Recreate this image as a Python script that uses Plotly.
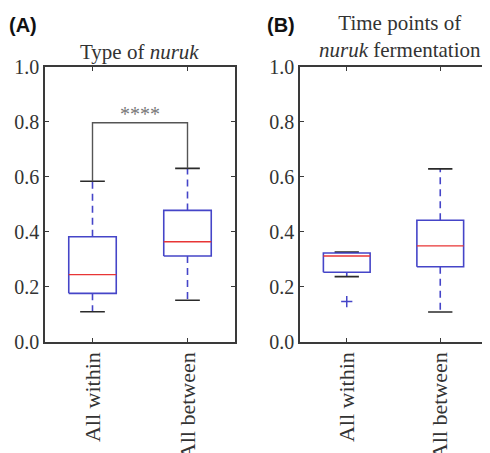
import plotly.graph_objects as go

categories = ["All within", "All between"]

# Panel A: Type of nuruk
a_lower = [0.109, 0.151]
a_q1 = [0.176, 0.312]
a_median = [0.244, 0.364]
a_q3 = [0.382, 0.478]
a_upper = [0.584, 0.631]
a_bracket = 0.797
a_sig = "****"

# Panel B: Time points of nuruk fermentation
b_lower = [0.237, 0.108]
b_q1 = [0.253, 0.273]
b_median = [0.312, 0.349]
b_q3 = [0.323, 0.442]
b_upper = [0.326, 0.629]
b_outlier_x = ["All within"]
b_outlier_y = [0.146]

y_ticks = [0.0, 0.2, 0.4, 0.6, 0.8, 1.0]

BLUE = "#4545c8"
RED = "#e83535"
CAP = "#2a2a2a"
FRAME = "#3a3a3a"
TXT = "#333333"
SERIF = "Liberation Serif"

# page body has an 8px margin; size the figure so that it fills the window
OFF = 8
W, H = 490 - OFF, 453 - OFF


def px(x):
    return (x - OFF) / W


def py(y):
    return 1 - (y - OFF) / H


fig = go.Figure()


def add_boxes(lower, q1, med, q3, upper, xa, ya):
    bx, by, mx, my, wx, wy, cx, cy = [], [], [], [], [], [], [], []
    hw, cw = 0.25, 0.13
    for i in range(len(categories)):
        bx += [i - hw, i + hw, i + hw, i - hw, i - hw, None]
        by += [q1[i], q1[i], q3[i], q3[i], q1[i], None]
        mx += [i - hw, i + hw, None]
        my += [med[i], med[i], None]
        wx += [i, i, None, i, i, None]
        wy += [q3[i], upper[i], None, q1[i], lower[i], None]
        cx += [i - cw, i + cw, None, i - cw, i + cw, None]
        cy += [upper[i], upper[i], None, lower[i], lower[i], None]
    common = dict(mode="lines", xaxis=xa, yaxis=ya, showlegend=False, hoverinfo="skip")
    fig.add_trace(go.Scatter(x=wx, y=wy, line=dict(color=BLUE, width=1.6, dash="7px,5px"), **common))
    fig.add_trace(go.Scatter(x=cx, y=cy, line=dict(color=CAP, width=1.6), **common))
    fig.add_trace(go.Scatter(x=bx, y=by, line=dict(color=BLUE, width=1.6), **common))
    fig.add_trace(go.Scatter(x=mx, y=my, line=dict(color=RED, width=1.4), **common))


add_boxes(a_lower, a_q1, a_median, a_q3, a_upper, "x", "y")
add_boxes(b_lower, b_q1, b_median, b_q3, b_upper, "x2", "y2")

# significance bracket panel A
fig.add_trace(go.Scatter(
    x=[0, 0, 1, 1], y=[a_upper[0], a_bracket, a_bracket, a_upper[1]],
    mode="lines", line=dict(color="#555555", width=1.4),
    xaxis="x", yaxis="y", showlegend=False, hoverinfo="skip"))

# outlier panel B
fig.add_trace(go.Scatter(
    x=[categories.index(c) for c in b_outlier_x], y=b_outlier_y, mode="markers",
    marker=dict(symbol="cross-thin", size=8, line=dict(color=BLUE, width=1.5)),
    xaxis="x2", yaxis="y2", showlegend=False, hoverinfo="skip"))

y_dom = [py(341.7), py(67)]

xcommon = dict(range=[-0.5, 1.5], tickmode="array", tickvals=[0, 1], ticktext=categories,
               tickangle=-90, ticks="inside", ticklen=4, tickcolor=FRAME,
               showline=True, linecolor=FRAME, linewidth=1.5, mirror="ticks",
               showgrid=False, zeroline=False, automargin=False,
               tickfont=dict(family=SERIF, size=22, color=TXT))
ycommon = dict(range=[0, 1], tickmode="array", tickvals=y_ticks,
               ticktext=[f"{v:.1f}" for v in y_ticks],
               ticks="inside", ticklen=4, tickcolor=FRAME,
               showline=True, linecolor=FRAME, linewidth=1.5, mirror="ticks",
               showgrid=False, zeroline=False, automargin=False,
               tickfont=dict(family=SERIF, size=20, color=TXT))

fig.update_layout(
    width=W, height=H,
    margin=dict(l=0, r=0, t=0, b=0),
    paper_bgcolor="white", plot_bgcolor="white",
    xaxis=dict(domain=[px(45), px(235)], anchor="y", **xcommon),
    yaxis=dict(domain=y_dom, anchor="x", **ycommon),
    xaxis2=dict(domain=[px(300), px(487)], anchor="y2", **xcommon),
    yaxis2=dict(domain=y_dom, anchor="x2", **ycommon),
    annotations=[
        dict(text="<b>(A)</b>", x=px(7), y=py(25), xref="paper", yref="paper",
             xanchor="left", yanchor="middle", showarrow=False,
             font=dict(family="Liberation Sans", size=20, color="#111111")),
        dict(text="<b>(B)</b>", x=px(265), y=py(25), xref="paper", yref="paper",
             xanchor="left", yanchor="middle", showarrow=False,
             font=dict(family="Liberation Sans", size=20, color="#111111")),
        dict(text="Type of <i>nuruk</i>", x=px(139), y=py(52), xref="paper", yref="paper",
             xanchor="center", yanchor="middle", showarrow=False,
             font=dict(family=SERIF, size=21, color=TXT)),
        dict(text="Time points of<br><i>nuruk</i> fermentation", x=px(400), y=py(37),
             xref="paper", yref="paper", xanchor="center", yanchor="middle", showarrow=False,
             font=dict(family=SERIF, size=21, color=TXT)),
        dict(text=a_sig, x=0.5, y=a_bracket, xref="x", yref="y", xanchor="center",
             yanchor="bottom", showarrow=False, yshift=-4,
             font=dict(family=SERIF, size=20, color="#777777")),
    ],
)

fig.write_html("out.html")
